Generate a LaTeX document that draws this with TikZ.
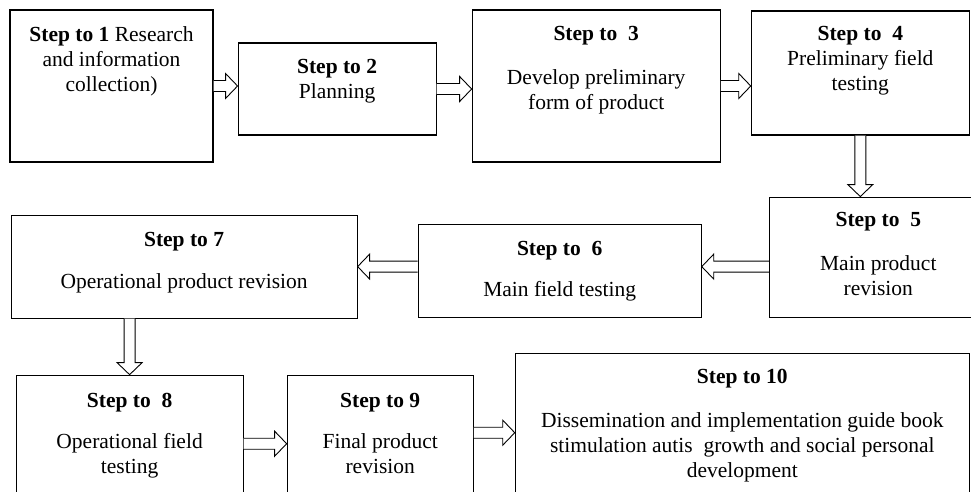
\documentclass[tikz,border=0pt]{standalone}
\usepackage{fontspec}
\setmainfont{Liberation Serif}
\usetikzlibrary{positioning, calc}
\newcommand{\stepfont}{\fontsize{21.5pt}{25pt}\selectfont}
\tikzstyle{stepbox} = [rectangle, draw=black, line width=1.1pt, inner sep=0pt]
\tikzstyle{steptext} = [align=center, inner sep=0pt, font=\stepfont]
\tikzstyle{bigarrow} = [draw=black, fill=white, line width=0.9pt, line join=miter,
  to path={let \p1=(\tikztostart), \p2=(\tikztotarget), \p3=($(\p2)!12pt!(\p1)$) in
    ($(\p1)!5.5pt!90:(\p2)$) -- ($(\p3)!5.5pt!90:(\p2)$) -- ($(\p3)!12.5pt!90:(\p2)$) -- (\p2)
    -- ($(\p3)!12.5pt!-90:(\p2)$) -- ($(\p3)!5.5pt!-90:(\p2)$) -- ($(\p1)!5.5pt!-90:(\p2)$)}]
\begin{document}
\begin{tikzpicture}[x=1pt, y=1pt]
           \useasboundingbox (0,0) rectangle (971,-492);
           \clip (0,0) rectangle (971,-492);
           \node (s1) [stepbox, minimum width=203pt, minimum height=152pt] at (111.5,-86) {};
           \node (s2) [stepbox, minimum width=198pt, minimum height=92pt, right=24pt of s1, yshift=-3pt] {};
           \node (s3) [stepbox, minimum width=248pt, minimum height=152pt, right=35pt of s2, yshift=3pt] {};
           \node (s4) [stepbox, minimum width=218pt, minimum height=124pt, right=30pt of s3, yshift=13pt] {};
           \node (s5) [stepbox, minimum width=218pt, minimum height=120pt, below=61pt of s4.south west, anchor=north west, xshift=18pt] {};
           \node (s6) [stepbox, minimum width=283pt, minimum height=93pt, left=67pt of s5, yshift=-13.5pt] {};
           \node (s7) [stepbox, minimum width=346pt, minimum height=103pt, left=60pt of s6, yshift=4pt] {};
           \node (s8) [stepbox, minimum width=227pt, minimum height=137pt, below=56pt of s7.south west, anchor=north west, xshift=5pt] {};
           \node (s9) [stepbox, minimum width=186pt, minimum height=137pt, right=43pt of s8] {};
           \node (s10) [stepbox, minimum width=454pt, minimum height=159pt, right=41pt of s9, yshift=11pt] {};

           \node (t1) [steptext, below=17pt of s1.north] {\textbf{Step to 1} Research\\and information\\collection)};
           \node (t2) [steptext, below=17pt of s2.north] {\textbf{Step to 2}\\Planning};
           \node (t3) [steptext, below=17pt of s3.north] {\textbf{Step to\ \ 3}\\[19pt]Develop preliminary\\form of product};
           \node (t4) [steptext, below=16pt of s4.north] {\textbf{Step to\ \ 4}\\Preliminary field\\testing};
           \node (t5) [steptext, below=16pt of s5.north] {\textbf{Step to\ \ 5}\\[19pt]Main product\\revision};
           \node (t6) [steptext, below=18pt of s6.north] {\textbf{Step to\ \ 6}\\[16pt]Main field testing};
           \node (t7) [steptext, below=18pt of s7.north] {\textbf{Step to 7}\\[17pt]Operational product revision};
           \node (t8) [steptext, below=18pt of s8.north] {\textbf{Step to\ \ 8}\\[16pt]Operational field\\testing};
           \node (t9) [steptext, below=18pt of s9.north] {\textbf{Step to 9}\\[16pt]Final product\\revision};
           \node (t10) [steptext, below=16pt of s10.north] {\textbf{Step to 10}\\[19pt]Dissemination and implementation guide book\\stimulation autis\ \ growth and social personal\\development};

           \draw [bigarrow] (s1.east) to (s1.east -| s2.west);
           \draw [bigarrow] (s2.east) to (s2.east -| s3.west);
           \draw [bigarrow] (s3.east) to (s3.east -| s4.west);
           \draw [bigarrow] (s4.south) to (s4.south |- s5.north);
           \draw [bigarrow] (s5.west |- s7.east) to (s6.east |- s7.east);
           \draw [bigarrow] (s6.west |- s7.east) to (s7.east);
           \draw [bigarrow] (s7.south -| s8.north) to (s8.north);
           \draw [bigarrow] (s8.east) to (s8.east -| s9.west);
           \draw [bigarrow] (s10.west -| s9.east) to (s10.west);
        \end{tikzpicture}
\end{document}
